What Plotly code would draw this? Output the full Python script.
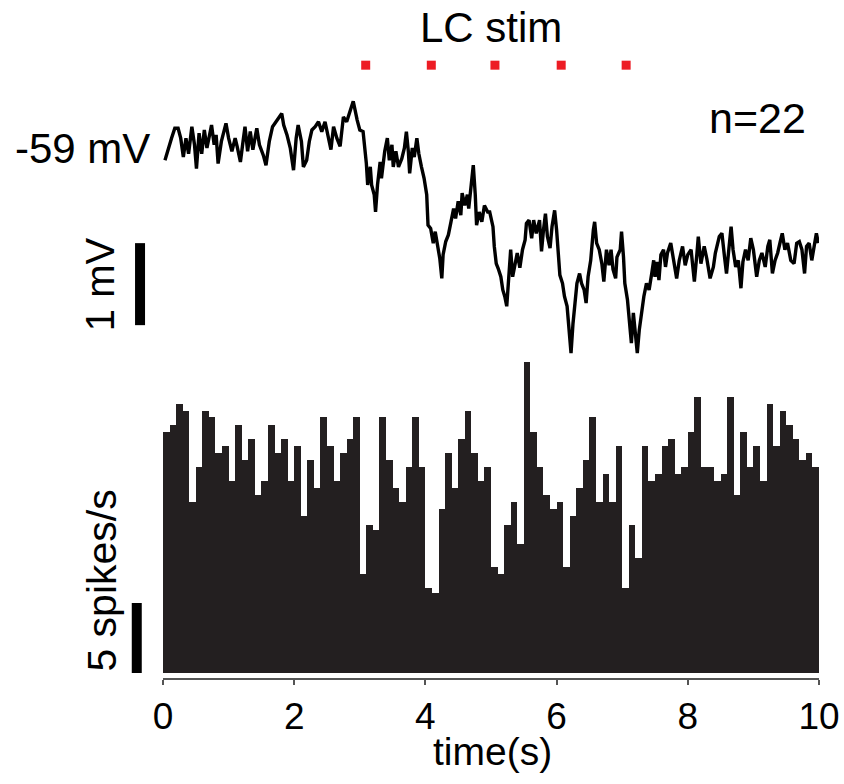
import plotly.graph_objects as go

# ---------------- data ----------------
# averaged membrane potential trace (time in s, potential in mV)
t_trace = [0.03, 0.08, 0.13, 0.18, 0.23, 0.27, 0.31, 0.35, 0.39, 0.44, 0.48, 0.51, 0.55, 0.59, 0.63, 0.67,
           0.71, 0.74, 0.78, 0.81, 0.84, 0.89, 0.96, 1.00, 1.05, 1.10, 1.13, 1.18, 1.22, 1.25, 1.29, 1.33,
           1.37, 1.43, 1.47, 1.53, 1.57, 1.62, 1.67, 1.72, 1.77, 1.81, 1.84, 1.89, 1.94, 1.99, 2.03, 2.06,
           2.11, 2.14, 2.19, 2.23, 2.27, 2.32, 2.37, 2.42, 2.47, 2.52, 2.56, 2.60, 2.65, 2.70, 2.75, 2.80,
           2.85, 2.90, 2.96, 3.00, 3.05, 3.08, 3.10, 3.12, 3.16, 3.18, 3.22, 3.24, 3.27, 3.31, 3.33, 3.38,
           3.42, 3.45, 3.49, 3.51, 3.55, 3.59, 3.64, 3.68, 3.71, 3.74, 3.76, 3.80, 3.83, 3.87, 3.90, 3.94,
           3.98, 4.02, 4.04, 4.08, 4.12, 4.15, 4.19, 4.22, 4.25, 4.27, 4.31, 4.35, 4.39, 4.43, 4.46, 4.50,
           4.54, 4.56, 4.60, 4.64, 4.66, 4.71, 4.73, 4.76, 4.78, 4.82, 4.86, 4.90, 4.95,
           4.98, 5.03, 5.05, 5.08, 5.11, 5.15, 5.18, 5.21, 5.24, 5.26, 5.30, 5.33, 5.37, 5.40, 5.44, 5.48,
           5.52, 5.54, 5.58, 5.62, 5.65, 5.69, 5.74, 5.77, 5.80, 5.83, 5.86, 5.90, 5.93, 5.97, 6.00, 6.03,
           6.05, 6.09, 6.12, 6.16, 6.19, 6.22, 6.25, 6.28, 6.31, 6.35, 6.38, 6.42, 6.45, 6.48, 6.52, 6.56,
           6.58, 6.61, 6.65, 6.69, 6.72, 6.76, 6.80, 6.83, 6.86, 6.90, 6.92, 6.97, 6.99, 7.02, 7.04, 7.08,
           7.11, 7.14, 7.17, 7.20, 7.23, 7.26, 7.30, 7.33, 7.37, 7.41, 7.45, 7.48,
           7.50, 7.53, 7.56, 7.59, 7.63, 7.66, 7.69, 7.74, 7.78, 7.83, 7.87, 7.92, 7.96, 8.00, 8.05, 8.10,
           8.14, 8.16, 8.20, 8.25, 8.29, 8.34, 8.39, 8.42, 8.48, 8.52, 8.56, 8.59, 8.63, 8.66, 8.69, 8.73,
           8.77, 8.81, 8.84, 8.88, 8.92, 8.96, 9.00, 9.05, 9.09, 9.13, 9.18, 9.22, 9.25, 9.29, 9.33, 9.37,
           9.41, 9.44, 9.48, 9.52, 9.57, 9.62, 9.66, 9.70, 9.74, 9.78, 9.81, 9.85, 9.89, 9.93, 9.96, 9.99]
v_trace = [-59.15, -59.00, -58.88, -58.76, -58.76, -58.88, -59.11, -58.88, -59.07, -58.74, -58.96, -59.25,
           -58.82, -59.07, -58.78, -59.00, -58.82, -58.72, -58.96, -58.84, -59.19, -58.92, -58.70, -58.88,
           -59.04, -58.88, -58.98, -59.17, -58.92, -58.74, -59.04, -58.80, -59.02, -58.76, -58.96, -59.09,
           -59.21, -58.92, -58.74, -58.68, -58.62, -58.58, -58.72, -58.84, -59.00, -59.27, -58.88, -58.72,
           -58.92, -59.23, -59.15, -58.92, -58.78, -58.74, -58.68, -58.80, -58.68, -58.90, -59.02, -58.74,
           -58.88, -58.98, -58.62, -58.68, -58.54, -58.43, -58.66, -58.78, -58.80, -59.02, -59.19, -59.45,
           -59.23, -59.45, -59.57, -59.78, -59.45, -59.17, -59.37, -59.04, -58.88, -59.15, -58.96, -59.23,
           -59.04, -59.23, -59.13, -59.00, -58.80, -59.04, -59.31, -59.00, -59.11, -58.88, -59.07, -59.23,
           -59.37, -59.57, -59.94, -59.98, -60.16, -60.02, -60.22, -60.35, -60.59, -60.30, -60.14, -60.06,
           -59.90, -59.74, -59.86, -59.65, -59.82, -59.55, -59.70, -59.57, -59.74, -59.41, -59.21, -59.57,
           -59.94, -59.78, -59.90, -59.70, -59.78,
           -59.78, -59.96, -60.20, -60.41, -60.47, -60.57, -60.73, -60.81, -60.93, -60.65, -60.24, -60.57,
           -60.41, -60.28, -60.46, -60.24, -60.12, -59.92, -59.88, -60.10, -59.88, -60.04, -59.88, -60.26,
           -60.00, -59.80, -60.08, -60.22, -59.96, -59.76, -60.00, -60.33, -60.55, -60.65, -60.81, -60.93,
           -61.22, -61.50, -61.14, -60.85, -60.65, -60.53, -60.65, -60.73, -60.89, -60.57, -60.37, -60.00,
           -59.90, -60.16, -60.24, -60.41, -60.63, -60.24, -60.43, -60.24, -60.48, -60.59, -60.33, -60.24,
           -60.02, -60.33, -60.65, -60.85, -61.14, -61.38, -61.01, -61.30, -61.50, -61.22, -60.98, -60.81,
           -60.65, -60.73, -60.53, -60.37,
           -60.57, -60.39, -60.61, -60.30, -60.24, -60.45, -60.28, -60.16, -60.35, -60.59, -60.37, -60.20,
           -60.43, -60.30, -60.24, -60.63, -60.28, -60.08, -60.41, -60.20, -60.35, -60.59, -60.45, -60.28,
           -60.08, -60.04, -60.33, -60.53, -60.20, -59.96, -60.24, -60.45, -60.37, -60.71, -60.39, -60.24,
           -60.37, -60.10, -60.24, -60.57, -60.37, -60.28, -60.45, -60.20, -60.12, -60.53, -60.37, -60.28,
           -60.14, -60.04, -60.24, -60.16, -60.37, -60.41, -60.16, -60.14, -60.24, -60.53, -60.20, -60.16,
           -60.37, -60.16, -60.04, -60.16]

# peri-stimulus firing rate histogram (spikes/s), 0.1 s bins
bin_width = 0.1
rate = [17.2, 17.7, 19.2, 18.7, 12.2, 14.7, 18.7, 18.3, 15.7, 16.2,
        13.7, 17.7, 15.2, 16.7, 12.7, 13.7, 17.7, 15.7, 16.7, 13.7,
        16.2, 11.2, 15.2, 13.2, 18.3, 16.2, 13.7, 15.7, 16.7, 18.3,
        7.1, 10.6, 10.2, 18.3, 15.2, 13.2, 12.2, 14.7, 18.3, 14.7,
        6.1, 5.7, 11.7, 15.7, 13.2, 16.7, 18.7, 15.7, 13.7, 14.7,
        7.6, 7.1, 10.6, 12.2, 9.2, 22.2, 17.2, 14.7, 12.7, 11.7,
        12.2, 7.6, 11.2, 13.2, 15.2, 18.3, 12.2, 14.2, 12.2, 16.2,
        6.1, 10.6, 8.2, 16.2, 13.7, 14.2, 16.2, 16.7, 14.2, 14.7,
        17.2, 19.7, 14.7, 14.7, 13.7, 14.2, 19.7, 12.7, 17.2, 14.7,
        16.2, 13.7, 19.2, 16.2, 18.7, 17.7, 16.7, 15.2, 15.7, 14.7]

stim_times = [3.09, 4.09, 5.06, 6.07, 7.06]
stim_level = -57.99
tick_vals = [0, 2, 4, 6, 8, 10]
tick_text = ["0", "2", "4", "6", "8", "10"]
n_cells = 22
baseline_mv = -59
mv_bar = [-61.16, -60.16]     # 1 mV scale bar
rate_bar = [0, 5]             # 5 spikes/s scale bar

# ---------------- figure ----------------
W, H = 844, 784
FONT = "Liberation Sans, Arial, Helvetica, sans-serif"
BAR_COLOR = "#231F20"
AXIS_GREY = "#555555"

bin_centers = [bin_width * (i + 0.5) for i in range(len(rate))]

fig = go.Figure()
fig.add_trace(go.Bar(x=bin_centers, y=rate, width=bin_width,
                     marker=dict(color=BAR_COLOR, line=dict(width=0)),
                     xaxis="x", yaxis="y", hoverinfo="skip"))
fig.add_trace(go.Scatter(x=t_trace, y=v_trace, mode="lines",
                         line=dict(color="black", width=3.4),
                         xaxis="x", yaxis="y2", hoverinfo="skip"))
fig.add_trace(go.Scatter(x=stim_times, y=[stim_level] * len(stim_times), mode="markers",
                         marker=dict(symbol="square", size=9, color="#ED1C24", line=dict(width=0)),
                         xaxis="x", yaxis="y2", hoverinfo="skip"))

# scale bars
fig.add_shape(type="line", xref="x", yref="y2", x0=-0.35, x1=-0.35, y0=mv_bar[0], y1=mv_bar[1],
              line=dict(color="black", width=10))
fig.add_shape(type="line", xref="x", yref="y", x0=-0.40, x1=-0.40, y0=rate_bar[0], y1=rate_bar[1],
              line=dict(color="black", width=10))
# time axis line (only from 0 to 10 s)
fig.add_shape(type="line", xref="x", yref="y domain", x0=tick_vals[0], x1=tick_vals[-1], y0=0, y1=0,
              line=dict(color=AXIS_GREY, width=2))

def afont(size):
    return dict(family=FONT, size=size, color="black")

fig.add_annotation(text=f"{baseline_mv} mV", xref="x", yref="y2", x=-0.17, y=baseline_mv,
                   xanchor="right", yanchor="middle", showarrow=False, font=afont(42))
fig.add_annotation(text=f"n={n_cells}", xref="paper", yref="paper", x=757 / W, y=1 - 118 / H,
                   xanchor="center", yanchor="middle", showarrow=False, font=afont(43))
fig.add_annotation(text="LC stim", xref="paper", yref="paper", x=491 / W,
                   y=1 - 28 / H, xanchor="center", yanchor="middle", showarrow=False, font=afont(42))
fig.add_annotation(text="time(s)", xref="paper", yref="paper", x=493 / W, y=1 - 751 / H,
                   xanchor="center", yanchor="middle", showarrow=False, font=afont(39),
                   borderpad=0)
fig.add_annotation(text="1 mV", xref="x", yref="y2", x=-0.96, y=sum(mv_bar) / 2, textangle=-90,
                   xanchor="center", yanchor="middle", showarrow=False, font=afont(40))
fig.add_annotation(text="5 spikes/s", xref="x", yref="y", x=-0.93, y=6.6, textangle=-90,
                   xanchor="center", yanchor="middle", showarrow=False, font=afont(41))

px_per_s = (819 - 163) / 10.0
x_left = -163 / px_per_s

fig.update_layout(
    width=W, height=H, autosize=False,
    margin=dict(l=0, r=0, t=0, b=0, pad=0, autoexpand=False),
    paper_bgcolor="white", plot_bgcolor="white",
    showlegend=False, bargap=0,
    font=dict(family=FONT, color="black"),
    xaxis=dict(domain=[0, 819 / W], range=[x_left, 10.0], anchor="y", automargin=False,
               tickmode="array", tickvals=tick_vals, ticktext=tick_text,
               ticks="outside", ticklen=5, tickwidth=1.5, tickcolor=AXIS_GREY,
               tickfont=dict(family=FONT, size=37, color="black"),
               showline=False, showgrid=False, zeroline=False),
    yaxis=dict(domain=[(H - 679) / H, (H - 361) / H], range=[-6 / 14, (673 - 361) / 14],
               visible=False, showgrid=False, zeroline=False, anchor="x", automargin=False),
    yaxis2=dict(domain=[(H - 360) / H, (H - 40) / H], range=[-61.585, -57.683],
                visible=False, showgrid=False, zeroline=False, anchor="x", automargin=False),
)

fig.write_html("out.html")
